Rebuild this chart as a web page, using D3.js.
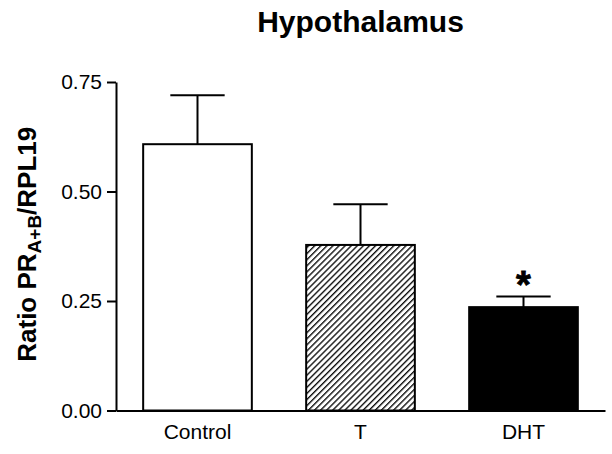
<!DOCTYPE html>
<html>
<head>
<meta charset="utf-8">
<script src="https://cdn.jsdelivr.net/npm/d3@7"></script>
<style>
  body { margin: 0; background: #fff; }
  svg { display: block; font-family: "Liberation Sans", Arial, sans-serif; }
</style>
</head>
<body>
<svg id="chart" width="612" height="454"></svg>
<script>
const categories = ["Control", "T", "DHT"];
const means = [0.608, 0.378, 0.236];
const sems = [0.112, 0.093, 0.024];
const fills = ["white", "hatch", "black"];
const significance = ["", "", "*"];
const yTicks = [0.00, 0.25, 0.50, 0.75];

const svg = d3.select("#chart");
const mLeft = 116, mRight = 605, mTop = 82, mBottom = 410.5;

const x = d3.scaleBand().domain(categories).range([mLeft, mRight])
  .paddingInner(1/3).paddingOuter(1/6);
const y = d3.scaleLinear().domain([0, 0.75]).range([mBottom, mTop]);

// hatch pattern
const defs = svg.append("defs");
const pat = defs.append("pattern").attr("id", "hatch")
  .attr("patternUnits", "userSpaceOnUse")
  .attr("width", 4.3).attr("height", 10)
  .attr("patternTransform", "rotate(45)");
pat.append("rect").attr("width", 4.3).attr("height", 10).attr("fill", "white");
pat.append("line").attr("x1", 0.7).attr("y1", 0).attr("x2", 0.7).attr("y2", 10)
  .attr("stroke", "black").attr("stroke-width", 1.3);

// title
svg.append("text").attr("x", (mLeft + mRight) / 2).attr("y", 32)
  .attr("text-anchor", "middle").attr("font-weight", "bold").attr("font-size", 30)
  .text("Hypothalamus");

// bars
const g = svg.append("g");
g.selectAll("rect.bar").data(categories).join("rect")
  .attr("class", "bar")
  .attr("x", d => x(d))
  .attr("y", (d, i) => y(means[i]))
  .attr("width", x.bandwidth())
  .attr("height", (d, i) => y(0) - y(means[i]))
  .attr("fill", (d, i) => fills[i] === "hatch" ? "url(#hatch)" : fills[i])
  .attr("stroke", "black").attr("stroke-width", 2);

// error bars
categories.forEach((c, i) => {
  const cx = x(c) + x.bandwidth() / 2;
  const hw = x.bandwidth() / 4;
  g.append("line").attr("x1", cx).attr("x2", cx)
    .attr("y1", y(means[i])).attr("y2", y(means[i] + sems[i]))
    .attr("stroke", "black").attr("stroke-width", 2);
  g.append("line").attr("x1", cx - hw).attr("x2", cx + hw)
    .attr("y1", y(means[i] + sems[i])).attr("y2", y(means[i] + sems[i]))
    .attr("stroke", "black").attr("stroke-width", 2);
  if (significance[i]) {
    g.append("text").attr("x", cx).attr("y", y(means[i] + sems[i]) + 1)
      .attr("text-anchor", "middle").attr("font-weight", "bold").attr("font-size", 38)
      .attr("stroke", "black").attr("stroke-width", 0.8)
      .text(significance[i]);
  }
});

// y axis
const yAxis = svg.append("g").attr("transform", `translate(${mLeft},0)`)
  .call(d3.axisLeft(y).tickValues(yTicks).tickFormat(d3.format(".2f")).tickSize(9).tickPadding(5).tickSizeOuter(0));
yAxis.select(".domain").attr("stroke-width", 2);
yAxis.selectAll(".tick line").attr("stroke-width", 2);
yAxis.selectAll(".tick text").attr("font-size", 21).attr("font-family", "Liberation Sans, Arial, sans-serif").attr("fill", "black");

// x axis
const xAxis = svg.append("g").attr("transform", `translate(0,${mBottom})`)
  .call(d3.axisBottom(x).tickSize(0).tickPadding(14).tickSizeOuter(0));
xAxis.select(".domain").attr("stroke-width", 2);
xAxis.selectAll(".tick text").attr("font-size", 21).attr("font-family", "Liberation Sans, Arial, sans-serif").attr("fill", "black");

// y label
const yl = svg.append("text")
  .attr("transform", `translate(36,${(mTop + mBottom) / 2 - 2}) rotate(-90)`)
  .attr("text-anchor", "middle").attr("font-weight", "bold").attr("font-size", 26);
yl.append("tspan").text("Ratio PR");
yl.append("tspan").attr("font-size", 19).attr("dy", 5).text("A+B");
yl.append("tspan").attr("dy", -5).text("/RPL19");
</script>
</body>
</html>
